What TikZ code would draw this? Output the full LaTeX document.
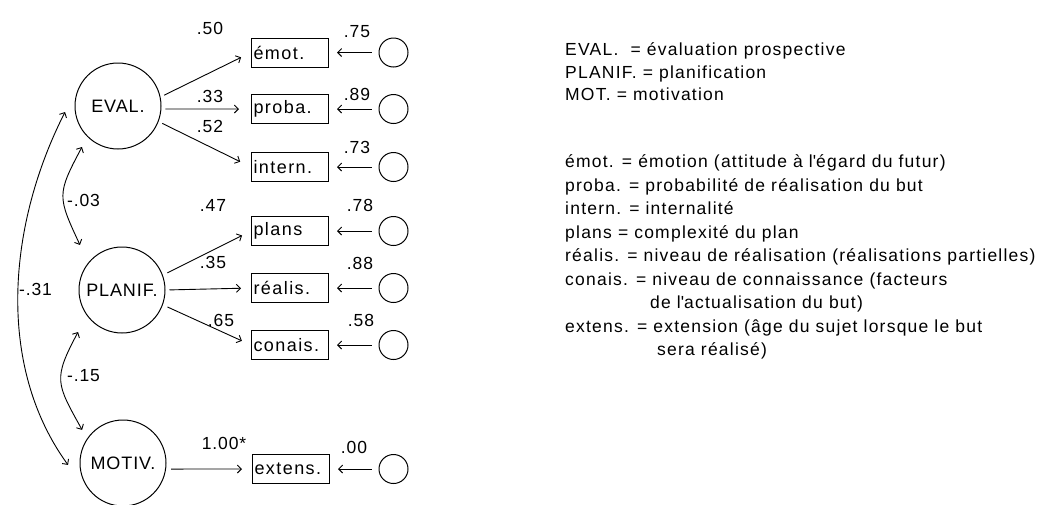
\documentclass[tikz,border=0pt]{standalone}
\usepackage{fontspec}
\setmainfont{Liberation Sans}[LetterSpace=5]
\usetikzlibrary{arrows.meta,calc}
\begin{document}
\begin{tikzpicture}[x=1pt,y=1pt,
  lat/.style={circle,draw,line width=1pt,minimum size=86pt,inner sep=0pt,font=\fontsize{18}{20}\selectfont},
  obs/.style={rectangle,draw,line width=1pt,minimum width=77pt,minimum height=29pt,inner xsep=1.5pt,inner ysep=0pt,text width=73pt,align=left,font=\fontsize{18}{20}\selectfont\addfontfeatures{LetterSpace=8}},
  err/.style={circle,draw,line width=1pt,minimum size=29pt,inner sep=0pt},
  tipb/.tip={Straight Barb[length=4pt,width=8pt]},
  arr/.style={line width=0.9pt,-tipb},
  cov/.style={line width=0.9pt,tipb-tipb},
  lab/.style={font=\fontsize{17.5}{20}\selectfont,inner sep=0pt},
  leg/.style={font=\fontsize{17.5}{20}\selectfont\addfontfeatures{LetterSpace=7},inner sep=0pt,anchor=base west}]
\useasboundingbox (0,0) rectangle (1042,-504);
% latent factors
\node[lat] (EVAL) at (118,-106) {EVAL.};
\node[lat] (PLANIF) at (122,-290) {PLANIF.};
\node[lat] (MOTIV) at (123,-463) {MOTIV.};
% observed variables
\node[obs] (emot) at (290,-52.5) {émot.};
\node[obs] (proba) at (290,-109) {proba.};
\node[obs] (intern) at (290,-167) {intern.};
\node[obs] (plans) at (290,-231) {plans};
\node[obs] (realis) at (290,-288) {réalis.};
\node[obs] (conais) at (290,-345) {conais.};
\node[obs] (extens) at (291,-469) {extens.};
% error terms
\node[err] (e1) at (393.5,-52.5) {};
\node[err] (e2) at (393.5,-109) {};
\node[err] (e3) at (393.5,-167) {};
\node[err] (e4) at (393.5,-231) {};
\node[err] (e5) at (393.5,-288) {};
\node[err] (e6) at (393.5,-345) {};
\node[err] (e7) at (393.5,-469) {};
% loadings
\draw[arr,shorten <=4pt,shorten >=11pt] (EVAL.12) -- (emot.west);
\draw[arr,shorten <=4pt,shorten >=12pt] (EVAL.-4) -- (proba.west);
\draw[arr,shorten <=4pt,shorten >=12pt] (EVAL.-21) -- (intern.west);
\draw[arr,shorten <=5pt,shorten >=10pt] (PLANIF.20) -- (plans.west);
\draw[arr,shorten <=4pt,shorten >=10pt] (PLANIF.0) -- (realis.west);
\draw[arr,shorten <=5pt,shorten >=10pt] (PLANIF.-20) -- (conais.west);
\draw[arr,shorten <=5pt,shorten >=10pt] (MOTIV.-8) -- (extens.west);
% error arrows
\foreach \e/\b in {e1/emot,e2/proba,e3/intern,e4/plans,e5/realis,e6/conais,e7/extens}
  \draw[arr,shorten <=7pt,shorten >=8pt] (\e) -- (\b);
% covariances
\draw[cov] ($(EVAL)+(186.5:53.3)$) to[out=243,in=126,looseness=0.9] ($(MOTIV)+(182:55)$);
\draw[cov] ($(EVAL)+(228.7:54.6)$) to[out=242,in=115,looseness=1.4] ($(PLANIF)+(133:61.6)$);
\draw[cov] ($(PLANIF)+(223.7:60.8)$) to[out=242,in=119,looseness=1.4] ($(MOTIV)+(141:52.6)$);
% labels
\node[lab] (l1) at (210,-28) {.50};
\node[lab] (l2) at (210,-96) {.33};
\node[lab] (l3) at (210,-126) {.52};
\node[lab] (l4) at (213,-205) {.47};
\node[lab] (l5) at (213,-262) {.35};
\node[lab] (l6) at (221,-320) {.65};
\node[lab] (l7) at (224,-443) {1.00*};
\node[lab] (r1) at (357,-32) {.75};
\node[lab] (r2) at (357,-94) {.89};
\node[lab] (r3) at (357,-147) {.73};
\node[lab] (r4) at (360,-205) {.78};
\node[lab] (r5) at (360,-263) {.88};
\node[lab] (r6) at (361,-320) {.58};
\node[lab] (r7) at (354,-447) {.00};
\node[lab,anchor=west] (c1) at (67,-200) {-.03};
\node[lab,anchor=west] (c2) at (67,-376) {-.15};
\node[lab,anchor=west] (c3) at (19,-289) {-.31};
% legend
\node[leg] (g1) at (565,-55.5) {EVAL.~ = évaluation prospective};
\node[leg] (g2) at (565,-78) {PLANIF. = planification};
\node[leg] (g3) at (565,-100.5) {MOT. = motivation};
\node[leg] (g4) at (565,-167.5) {émot. = émotion (attitude à l\textquotesingle égard du futur)};
\node[leg] (g5) at (565,-191) {proba. = probabilité de réalisation du but};
\node[leg] (g6) at (565,-214.5) {intern. = internalité};
\node[leg] (g7) at (565,-238) {plans = complexité du plan};
\node[leg] (g8) at (565,-261.5) {réalis. = niveau de réalisation (réalisations partielles)};
\node[leg] (g9) at (565,-285) {conais. = niveau de connaissance (facteurs};
\node[leg] (g10) at (650,-308.5) {de l\textquotesingle actualisation du but)};
\node[leg] (g11) at (565,-332) {extens. = extension (âge du sujet lorsque le but};
\node[leg] (g12) at (657,-355.5) {sera réalisé)};
\end{tikzpicture}
\end{document}
